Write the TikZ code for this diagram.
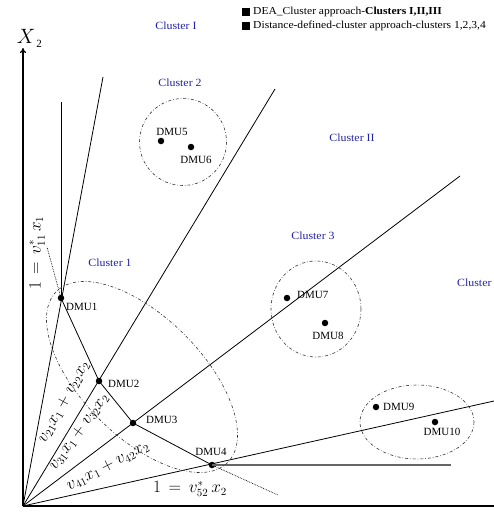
\documentclass[tikz,border=0pt]{standalone}
\usepackage{fontspec}
\setmainfont{Liberation Serif}
\newfontfamily\widefont[FakeStretch=1.08]{Liberation Serif}
\usetikzlibrary{arrows.meta}
\definecolor{clblue}{RGB}{35,35,165}
\begin{document}
\begin{tikzpicture}[x=1pt,y=-1pt,
  axis/.style={line width=1.2pt},
  ray/.style={line width=0.8pt},
  dmu/.style={circle,fill=black,inner sep=0pt,minimum size=6.5pt},
  lab/.style={font=\fontsize{11}{13}\selectfont, inner sep=0pt},
  clab/.style={text=clblue,font=\widefont\fontsize{11}{13}\selectfont, inner sep=0pt},
  clus/.style={line width=0.6pt, dash dot, draw=black!80},
  eq/.style={font=\fontsize{16}{19}\selectfont, inner sep=0pt},
  leg/.style={font=\widefont\fontsize{10.7}{13}\selectfont, inner sep=0pt, anchor=west},
  sq/.style={fill=black, minimum size=8pt, inner sep=0pt}]
\useasboundingbox (0,0) rectangle (494,515);
% coordinates
\coordinate (O) at (23,506);
\coordinate (ytop) at (23,48);
\coordinate (xend) at (494,506);
\coordinate (r1) at (103,77);
\coordinate (r2) at (275,89);
\coordinate (r3) at (460,176);
\coordinate (r4) at (494,401);
\coordinate (vtop) at (61,102);
\coordinate (h4) at (451,465);
\coordinate (dt1) at (47,247);
\coordinate (dt4) at (278,495);
% DMU points
\node[dmu] (d1) at (61,298) {};
\node[dmu] (d2) at (99,381) {};
\node[dmu] (d3) at (133,423) {};
\node[dmu] (d4) at (212,465) {};
\node[dmu] (d5) at (161,141) {};
\node[dmu] (d6) at (191,147) {};
\node[dmu] (d7) at (287,298) {};
\node[dmu] (d8) at (325,323) {};
\node[dmu] (d9) at (376,407) {};
\node[dmu] (d10) at (435,422) {};
% axes
\draw[axis,-{To[length=5pt,width=6pt]}] (O) -- (ytop);
\draw[axis] (O) -- (xend);
% rays
\draw[ray] (O) -- (r1);
\draw[ray] (O) -- (r2);
\draw[ray] (O) -- (r3);
\draw[ray] (O) -- (r4);
\draw[ray] (vtop) -- (d1.center);
\draw[ray] (d1.center) -- (d2.center) -- (d3.center) -- (d4.center);
\draw[line width=1.2pt, black!60] (d4.center) -- (h4);
\draw[line width=0.7pt, densely dotted] (d4) -- (dt4);
\draw[line width=0.7pt, densely dotted] (d1) -- (dt1);
% clusters
\draw[clus, rotate around={-45:(142,377)}] (142,377) ellipse [x radius=121, y radius=60];
\draw[clus] (183,142) ellipse [x radius=43.5, y radius=43.5];
\draw[clus] (316,309) ellipse [x radius=45, y radius=48];
\draw[clus] (417,422) ellipse [x radius=57, y radius=37];
% DMU labels
\node[lab,anchor=west] (l1) at (66,307) {DMU1};
\node[lab,anchor=west] (l2) at (108,384) {DMU2};
\node[lab,anchor=west] (l3) at (146,420) {DMU3};
\node[lab] (l4) at (211,452) {DMU4};
\node[lab] (l5) at (172,132) {DMU5};
\node[lab] (l6) at (196,160) {DMU6};
\node[lab,anchor=west] (l7) at (297,295) {DMU7};
\node[lab] (l8) at (328,336) {DMU8};
\node[lab,anchor=west] (l9) at (383,407) {DMU9};
\node[lab] (l10) at (442,432) {DMU10};
% cluster labels
\node[clab] (cI) at (176,26) {Cluster I};
\node[clab] (c2) at (180,83) {Cluster 2};
\node[clab] (cII) at (352,138) {Cluster II};
\node[clab] (c3) at (313,236) {Cluster 3};
\node[clab] (c1) at (110,263) {Cluster 1};
\node[clab,anchor=west] (cIII) at (457,283) {Cluster};
% axis label
\node[font=\fontsize{22}{24}\selectfont, inner sep=0pt] (xl) at (26,36) {$X$};
\node[font=\fontsize{11}{12}\selectfont, inner sep=0pt] (xs) at (39,44) {2};
% equations
\node[eq,rotate=90] (e1) at (37,253) {$1\,=\,v^{*}_{11}\,x_1$};
\node[eq,rotate=61] (e2) at (64,402) {$v_{21}x_1+v_{22}x_2$};
\node[eq,rotate=54] (e3) at (79,432) {$v_{31}x_1+v_{32}x_2$};
\node[eq,rotate=27.5] (e4) at (108,466) {$v_{41}x_1+v_{42}x_2$};
\node[eq] (e5) at (190,489) {$1\,=\,v^{*}_{52}\,x_2$};
% legend
\node[sq] (s1) at (246,12) {};
\node[sq] (s2) at (246,26) {};
\node[leg] (g1) at (253,12) {DEA\_Cluster approach-\textbf{Clusters I,II,III}};
\node[leg] (g2) at (253,26) {Distance-defined-cluster approach-clusters 1,2,3,4};
\end{tikzpicture}
\end{document}
